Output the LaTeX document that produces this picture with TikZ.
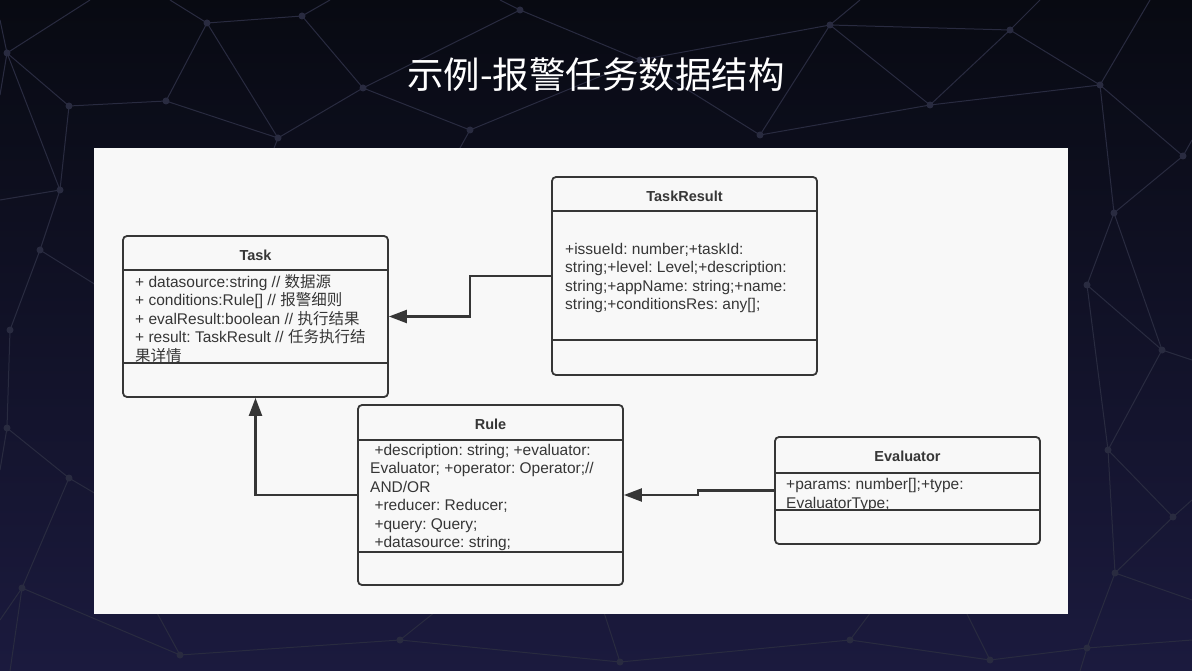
\documentclass[tikz,border=0pt]{standalone}
\usepackage{fontspec}
\setmainfont{Liberation Sans}
\newfontfamily\cjk{Noto Sans CJK SC}
\usetikzlibrary{arrows.meta}
\frenchspacing

\definecolor{bgtop}{HTML}{080A12}
\definecolor{bgbot}{HTML}{1B1A3E}
\definecolor{meshline}{HTML}{292B40}
\definecolor{panel}{HTML}{F8F8F8}
\definecolor{umlline}{HTML}{363636}

\tikzset{
  classbox/.style={draw=umlline, line width=1.8pt, rounded corners=4pt, fill=panel, inner sep=0pt},
  classname/.style={font=\fontsize{14.5}{17}\selectfont\bfseries, text=umlline},
  members/.style={font=\fontsize{15.5}{18.5}\selectfont, text=umlline, align=left, anchor=north west, inner sep=0pt},
  divider/.style={draw=umlline, line width=1.8pt},
  assoc/.style={draw=umlline, line width=2.2pt, -{Triangle[length=18pt,width=13pt]}},
  meshdot/.style={fill=meshline, draw=none},
}

\begin{document}
\begin{tikzpicture}[x=1pt,y=-1pt]
  % slide background
  \shade[top color=bgtop, bottom color=bgbot] (0,0) rectangle (1192,671);
  \useasboundingbox (0,0) rectangle (1192,671);
  \begin{scope}[meshline, line width=1pt]
    \draw (90,0) -- (7,53) -- (69,106) -- (166,101) -- (207,23) -- (302,16) -- (363,88) -- (278,138) -- (166,101);
    \draw (170,0) -- (207,23) -- (278,138) -- (230,260);
    \draw (0,95) -- (7,53) -- (0,20);
    \draw (330,0) -- (302,16);
    \draw (363,88) -- (520,10) -- (640,60) -- (470,130) -- (363,88);
    \draw (470,130) -- (420,220);
    \draw (520,10) -- (500,0);
    \draw (640,60) -- (760,135) -- (830,25) -- (640,60);
    \draw (830,25) -- (930,105) -- (760,135);
    \draw (930,105) -- (1010,30) -- (830,25) -- (860,0);
    \draw (1010,30) -- (1100,85) -- (930,105);
    \draw (1010,30) -- (1040,0);
    \draw (1100,85) -- (1150,0);
    \draw (1100,85) -- (1183,156) -- (1192,140);
    \draw (1100,85) -- (1114,213) -- (1183,156);
    \draw (1114,213) -- (1087,285) -- (1162,350) -- (1114,213);
    \draw (1162,350) -- (1192,360);
    \draw (1162,350) -- (1108,450) -- (1087,285);
    \draw (1108,450) -- (1173,517) -- (1115,573) -- (1108,450);
    \draw (1173,517) -- (1192,500);
    \draw (1115,573) -- (1087,648) -- (1192,640);
    \draw (1115,573) -- (1192,600);
    \draw (1087,648) -- (1080,671);
    \draw (69,106) -- (60,190) -- (40,250) -- (10,330) -- (7,428) -- (69,478) -- (22,588) -- (0,620);
    \draw (7,53) -- (60,190) -- (0,200);
    \draw (40,250) -- (120,300);
    \draw (7,428) -- (0,470);
    \draw (69,478) -- (140,520);
    \draw (22,588) -- (180,655) -- (400,640) -- (620,662) -- (850,640) -- (990,660) -- (1087,648);
    \draw (22,588) -- (10,671);
    \draw (180,655) -- (150,600);
    \draw (400,640) -- (450,600);
    \draw (620,662) -- (600,600);
    \draw (850,640) -- (880,600);
    \draw (990,660) -- (960,600);
    \foreach \p in {(7,53),(69,106),(166,101),(207,23),(302,16),(363,88),(278,138),
      (520,10),(470,130),(640,60),(760,135),(830,25),(930,105),(1010,30),(1100,85),
      (1183,156),(1114,213),(1087,285),(1162,350),(1108,450),(1173,517),(1115,573),
      (1087,648),(60,190),(40,250),(10,330),(7,428),(69,478),(22,588),(180,655),
      (400,640),(620,662),(850,640),(990,660)}
      \fill[meshdot] \p circle (3.5pt);
  \end{scope}

  \node[text=white, font=\cjk\fontsize{36.5}{40}\selectfont] (title) at (596,75) {示例-报警任务数据结构};
  \node[fill=panel, minimum width=974pt, minimum height=466pt, inner sep=0pt] (board) at (581,381) {};

  % Task
  \node[classbox, minimum width=265pt, minimum height=161pt] (task) at (255.5,316.5) {};
  \node[classname] (task-name) at (255.5,255) {Task};
  \begin{scope}
    \clip (123,270) rectangle (388,363);
    \node[members] (task-attrs) at (135,274) {+ datasource:string // {\cjk 数据源}\\
      + conditions:Rule[] // {\cjk 报警细则}\\
      + evalResult:boolean // {\cjk 执行结果}\\
      + result: TaskResult // {\cjk 任务执行结}\\
      {\cjk 果详情}};
  \end{scope}
  \draw[divider] (task.west |- 0,270) -- (task.east |- 0,270);
  \draw[divider] (task.west |- 0,363) -- (task.east |- 0,363);

  % TaskResult
  \node[classbox, minimum width=265pt, minimum height=198pt] (taskresult) at (684.5,276) {};
  \node[classname] (taskresult-name) at (684.5,196) {TaskResult};
  \node[members] (taskresult-attrs) at (565,243) {+issueId: number;+taskId:\\
    string;+level: Level;+description:\\
    string;+appName: string;+name:\\
    string;+conditionsRes: any[];};
  \draw[divider] (taskresult.west |- 0,211) -- (taskresult.east |- 0,211);
  \draw[divider] (taskresult.west |- 0,340) -- (taskresult.east |- 0,340);

  % Rule
  \node[classbox, minimum width=265pt, minimum height=180pt] (rule) at (490.5,495) {};
  \node[classname] (rule-name) at (490.5,424) {Rule};
  \node[members] (rule-attrs) at (370,444) {\ +description: string; +evaluator:\\
    Evaluator; +operator: Operator;//\\
    AND/OR\\
    \ +reducer: Reducer;\\
    \ +query: Query;\\
    \ +datasource: string;};
  \draw[divider] (rule.west |- 0,440) -- (rule.east |- 0,440);
  \draw[divider] (rule.west |- 0,552) -- (rule.east |- 0,552);

  % Evaluator
  \node[classbox, minimum width=265pt, minimum height=107pt] (evaluator) at (907.5,490.5) {};
  \node[classname] (evaluator-name) at (907.5,456) {Evaluator};
  \begin{scope}
    \clip (775,473) rectangle (1040,510);
    \node[members] (evaluator-attrs) at (786,478.5) {+params: number[];+type:\\
      EvaluatorType;};
  \end{scope}
  \draw[divider] (evaluator.west |- 0,473) -- (evaluator.east |- 0,473);
  \draw[divider] (evaluator.west |- 0,510) -- (evaluator.east |- 0,510);

  % links
  \draw[assoc] (taskresult.west) -| (470,316.5) -- (task.east);
  \draw[assoc] (rule.west) -| (task.south);
  \draw[assoc] (evaluator.west) -- ++(-76,0) |- (rule.east);
\end{tikzpicture}
\end{document}
